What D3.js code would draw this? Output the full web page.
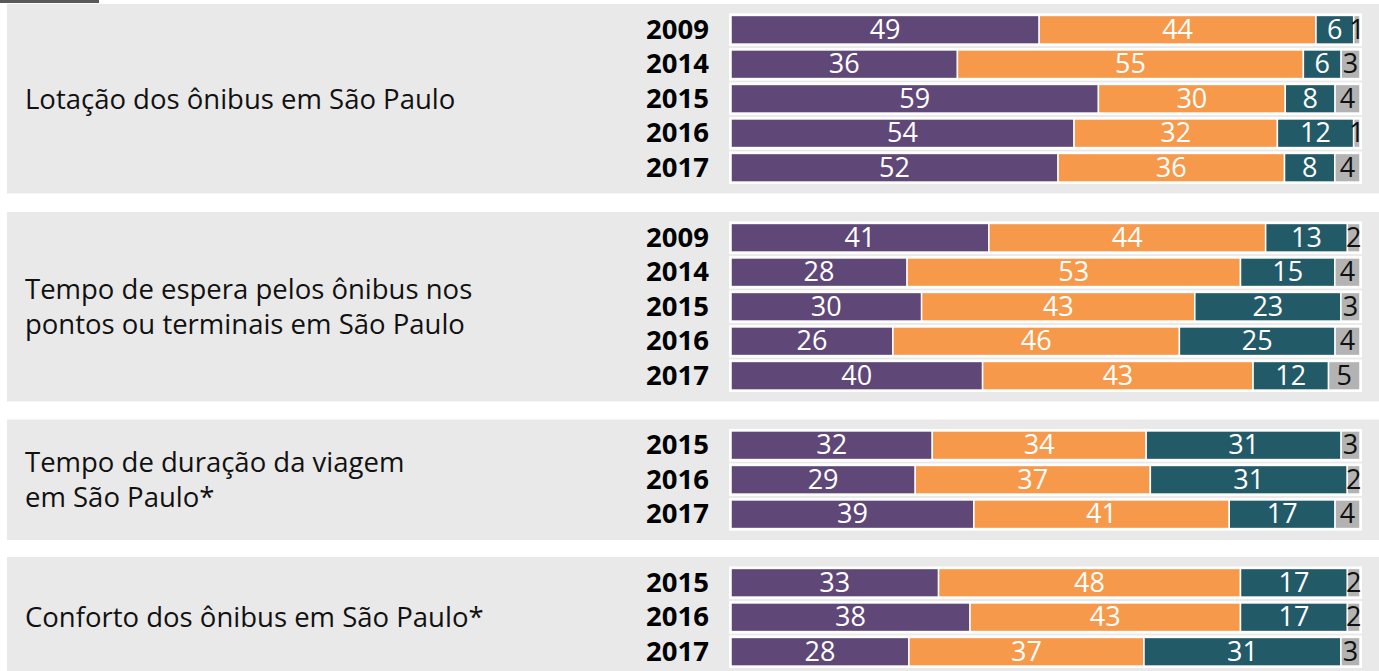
<!DOCTYPE html>
<html>
<head>
<meta charset="utf-8">
<script src="https://cdn.jsdelivr.net/npm/d3@7"></script>
<style>
  body { margin: 0; background: #fff; }
  svg { display: block; font-family: "Open Sans", sans-serif; }
</style>
</head>
<body>
<svg id="chart"></svg>
<script>
const titles = [
  ["Lotação dos ônibus em São Paulo"],
  ["Tempo de espera pelos ônibus nos", "pontos ou terminais em São Paulo"],
  ["Tempo de duração da viagem", "em São Paulo*"],
  ["Conforto dos ônibus em São Paulo*"]
];
const years = [
  ["2009", "2014", "2015", "2016", "2017"],
  ["2009", "2014", "2015", "2016", "2017"],
  ["2015", "2016", "2017"],
  ["2015", "2016", "2017"]
];
const purpleVals = [[49, 36, 59, 54, 52], [41, 28, 30, 26, 40], [32, 29, 39], [33, 38, 28]];
const orangeVals = [[44, 55, 30, 32, 36], [44, 53, 43, 46, 43], [34, 37, 41], [48, 43, 37]];
const tealVals   = [[6, 6, 8, 12, 8], [13, 15, 23, 25, 12], [31, 31, 17], [17, 17, 31]];
const grayVals   = [[1, 3, 4, 1, 4], [2, 4, 3, 4, 5], [3, 2, 4], [2, 2, 3]];

const keys = ["a", "b", "c", "d"];
const fills = { a: "#5f4878", b: "#f7994a", c: "#235a68", d: "#b3b3b3" };
const textFill = { a: "#fff", b: "#fff", c: "#fff", d: "#111" };

const width = 1379, height = 671;
const svg = d3.select("#chart").attr("width", width).attr("height", height);

const rowStep = 34.5;
const x = d3.scaleLinear().domain([0, 1]).range([731, 1360]);

// little dark tab top left
svg.append("rect").attr("x", 0).attr("y", 0).attr("width", 99).attr("height", 3).attr("fill", "#595959");

const gaps = [18.5, 18, 17];
let panelTop = 4;
titles.forEach((title, p) => {
  const n = years[p].length;
  const panelH = n * rowStep + 17;
  const g = svg.append("g");

  g.append("rect")
    .attr("x", 7).attr("y", panelTop)
    .attr("width", width - 7).attr("height", panelH)
    .attr("fill", "#e9e9e9");

  const y = d3.scaleBand()
    .domain(years[p])
    .range([panelTop + 8.5, panelTop + 8.5 + n * rowStep])
    .paddingInner(0.17).paddingOuter(0.085);

  const rows = years[p].map((yr, i) => ({
    year: yr, a: purpleVals[p][i], b: orangeVals[p][i], c: tealVals[p][i], d: grayVals[p][i]
  }));
  const series = d3.stack().keys(keys).offset(d3.stackOffsetExpand)(rows);

  // row backing (white frame)
  g.selectAll(".frame")
    .data(rows)
    .enter()
    .append("rect")
    .attr("x", x(0) - 2)
    .attr("y", d => y(d.year) - 2)
    .attr("width", x(1) - x(0) + 4)
    .attr("height", y.bandwidth() + 4)
    .attr("fill", "#fff");

  series.forEach(s => {
    const sg = g.append("g");
    sg.selectAll("rect")
      .data(s)
      .enter()
      .append("rect")
      .attr("x", d => x(d[0]))
      .attr("y", d => y(d.data.year))
      .attr("width", d => Math.max(0, x(d[1]) - x(d[0])))
      .attr("height", y.bandwidth())
      .attr("fill", fills[s.key])
      .attr("stroke", "#fff")
      .attr("stroke-width", 1.5);
    sg.selectAll("text")
      .data(s)
      .enter()
      .append("text")
      .text(d => d.data[s.key])
      .attr("x", d => (x(d[0]) + x(d[1])) / 2)
      .attr("y", d => y(d.data.year) + y.bandwidth() / 2)
      .attr("dy", "0.33em")
      .attr("text-anchor", "middle")
      .attr("fill", textFill[s.key])
      .style("font-size", "27px");
  });

  const yAxis = d3.axisLeft(y).tickSize(0).tickPadding(0);
  g.append("g")
    .attr("transform", `translate(709, 0)`)
    .call(yAxis)
    .call(a => a.select(".domain").remove())
    .selectAll("text")
      .attr("fill", "#000")
      .attr("dy", "0.32em")
      .style("font-family", "'Open Sans', sans-serif")
      .style("font-weight", "bold")
      .style("font-size", "27.5px");

  const cy = panelTop + panelH / 2 + 1;
  const lineH = 35;
  g.selectAll(".title")
    .data(title)
    .enter()
    .append("text")
    .text(d => d)
    .attr("x", 25)
    .attr("y", (d, i) => cy + (i - (title.length - 1) / 2) * lineH)
    .attr("dy", "0.33em")
    .attr("fill", "#111")
    .style("font-size", "27.5px");

  panelTop += panelH + (gaps[p] || 18);
});
</script>
</body>
</html>
